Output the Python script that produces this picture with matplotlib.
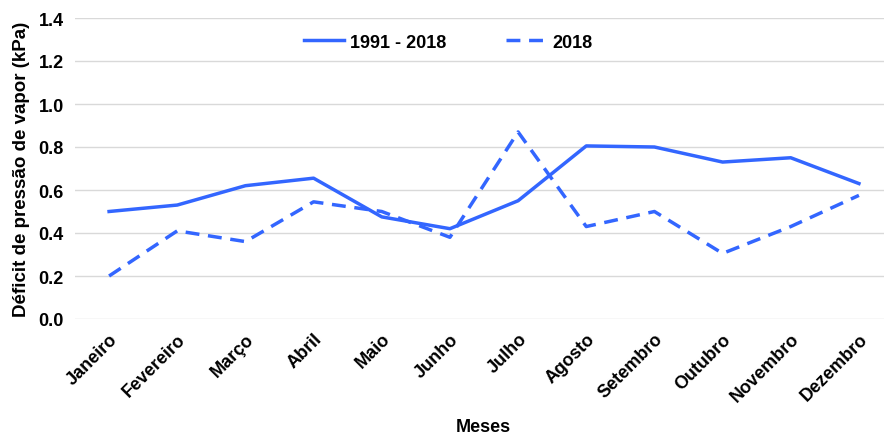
import matplotlib.pyplot as plt
import numpy as np

plt.rcParams['font.family'] = ['Liberation Sans', 'DejaVu Sans']

meses = ['Janeiro', 'Fevereiro', 'Março', 'Abril', 'Maio', 'Junho', 'Julho',
         'Agosto', 'Setembro', 'Outubro', 'Novembro', 'Dezembro']
dpv_media = [0.50, 0.53, 0.62, 0.655, 0.475, 0.42, 0.55, 0.805, 0.80, 0.73, 0.75, 0.63]
dpv_2018 = [0.20, 0.41, 0.36, 0.545, 0.50, 0.38, 0.87, 0.43, 0.50, 0.305, 0.43, 0.575]

cor = '#3366FF'

fig = plt.figure(figsize=(8.84, 4.35), dpi=100)
ax = fig.add_axes([75/884, 115/435, 818/884, 301/435])
x = np.arange(len(meses))
ax.plot(x, dpv_media, color=cor, lw=2.5, label='1991 - 2018')
ax.plot(x, dpv_2018, color=cor, lw=2.5, ls=(0, (4, 2.5)), label='2018')

ax.set_xlim(-0.5, 11.5)
ax.set_ylim(0, 1.4)
ax.set_yticks(np.arange(0, 1.41, 0.2))
ax.set_yticklabels(['%.1f' % v for v in np.arange(0, 1.41, 0.2)], fontsize=13, fontweight='bold')
ax.set_xticks(x)
ax.set_xticklabels(meses, rotation=45, ha='right', rotation_mode='anchor', fontsize=13, fontweight='bold')
ax.tick_params(length=0, pad=8)
ax.grid(axis='y', color='#d9d9d9', lw=1)
ax.set_axisbelow(True)
for s in ax.spines.values():
    s.set_visible(False)

ax.set_ylabel('Déficit de pressão de vapor (kPa)', fontsize=13.5, fontweight='bold', labelpad=6)
fig.text(483/884, 1 - 428/435, 'Meses', ha='center', va='center', fontsize=13, fontweight='bold')

leg = ax.legend(loc='center', ncol=2, frameon=False,
                prop={'weight': 'bold', 'size': 13}, handlelength=2.2,
                handletextpad=0.35, columnspacing=3.3)
leg.set_bbox_to_anchor(((448 - 75)/818, (320 - 43)/301), transform=ax.transAxes)

fig.savefig('out.png', dpi=100)
